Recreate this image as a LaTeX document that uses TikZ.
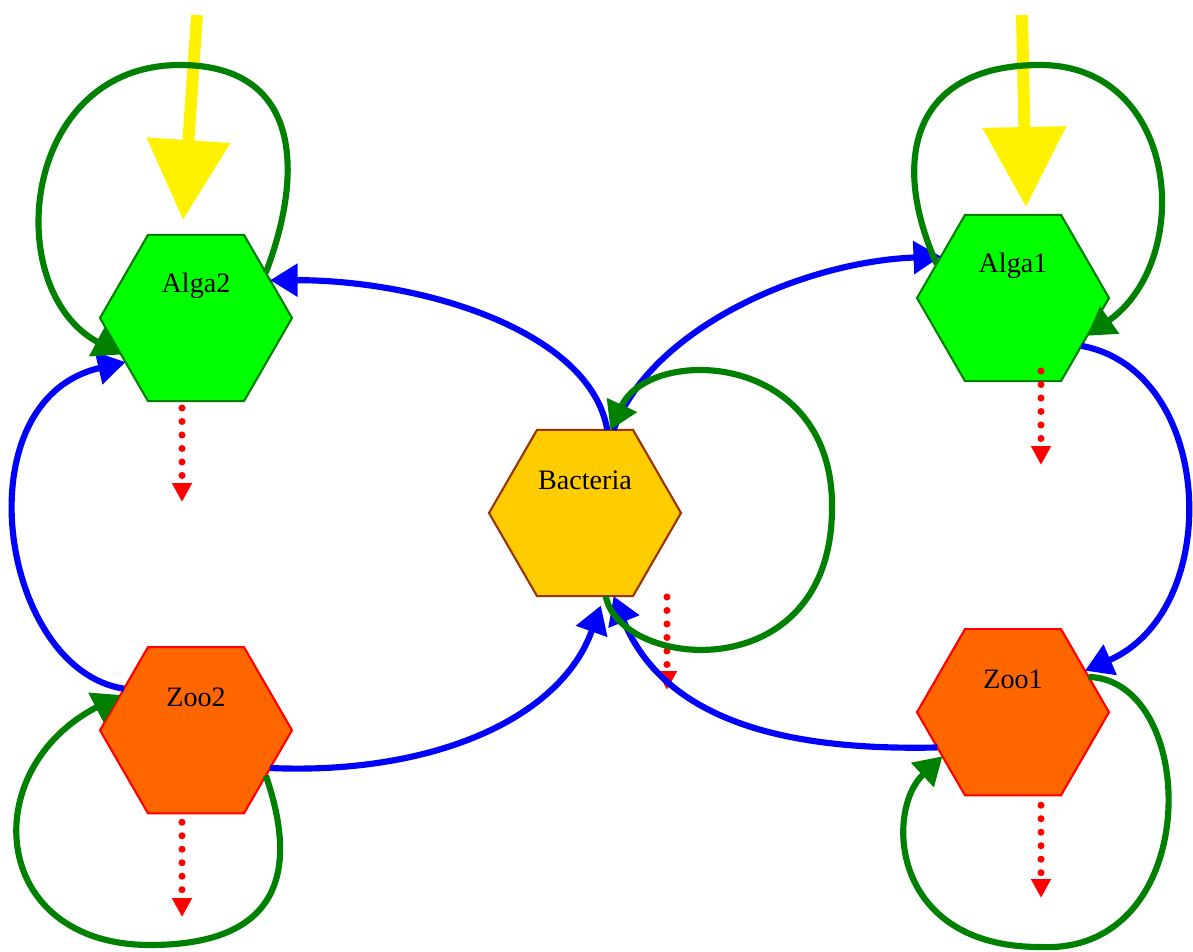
\documentclass[tikz,border=0pt]{standalone}
\usepackage{fontspec}
\setmainfont{Liberation Serif}
\usepackage{xcolor}
\usepackage{tikz}
\usetikzlibrary{shapes,arrows.meta,positioning}
\definecolor{algagreen}{RGB}{0,255,0}
\definecolor{darkgreen}{RGB}{0,128,0}
\definecolor{bactyellow}{RGB}{255,204,0}
\definecolor{bactbrown}{RGB}{153,51,0}
\definecolor{zooorange}{RGB}{255,102,0}

\begin{document}
\begin{tikzpicture}[x=0.02cm, y=-0.02cm,
		hexa/.style={regular polygon, regular polygon sides=6, minimum size=3.84cm, inner sep=0pt, outer sep=0pt, line width=1.2pt},
		hexlabel/.style={font=\fontsize{16}{19}\selectfont, yshift=0.65cm},
		flow/.style={blue, line width=3.5pt, -{Triangle[length=0.55cm,width=0.64cm]}},
		self/.style={darkgreen, line width=3.5pt, -{Triangle[length=0.55cm,width=0.64cm]}},
		loss/.style={red, line width=4pt, line cap=round, dash pattern=on 0pt off 0.27cm, -{Triangle[length=0.38cm,width=0.38cm]}},
		sun/.style={yellow, line width=6.8pt, -{Triangle[length=1.6cm,width=1.62cm]}}]
				\useasboundingbox (0,0) rectangle (1193,952);
				\node[hexa, fill=algagreen, draw=darkgreen] (alga2) at (196,318) {};
				\node[hexa, fill=zooorange, draw=red, below=4.92cm of alga2] (zoo2) {};
				\node[hexa, fill=bactyellow, draw=bactbrown] (bacteria) at (585,513) {};
				\node[hexa, fill=algagreen, draw=darkgreen] (alga1) at (1013,298) {};
				\node[hexa, fill=zooorange, draw=red, below=4.96cm of alga1] (zoo1) {};
				\node[hexlabel] (alga2-name) at (alga2) {Alga2};
				\node[hexlabel] (zoo2-name) at (zoo2) {Zoo2};
				\node[hexlabel] (bacteria-name) at (bacteria) {Bacteria};
				\node[hexlabel] (alga1-name) at (alga1) {Alga1};
				\node[hexlabel] (zoo1-name) at (zoo1) {Zoo1};
				\coordinate (sun2) at (197,15);
				\coordinate (sun2tip) at (183,220);
				\coordinate (sun1) at (1022,15);
				\coordinate (sun1tip) at (1026,207);
				\coordinate (alga2out) at (182,502);
				\coordinate (zoo2out) at (182,917);
				\coordinate (bacteriaout) at (667,690);
				\coordinate (alga1out) at (1041,465);
				\coordinate (zoo1out) at (1041,898);
				\draw[sun] (sun2) -- (sun2tip);
				\draw[sun] (sun1) -- (sun1tip);
				\draw[loss] ([shift={(-14,90)}]alga2.center) -- (alga2out);
				\draw[loss] ([shift={(-14,92)}]zoo2.center) -- (zoo2out);
				\draw[loss] ([shift={(82,84)}]bacteria.center) -- (bacteriaout);
				\draw[loss] ([shift={(28,73)}]alga1.center) -- (alga1out);
				\draw[loss] ([shift={(28,93)}]zoo1.center) -- (zoo1out);
				\draw[flow] (bacteria.75) .. controls (590,330) and (420,280) .. (alga2.27);
				\draw[flow] (bacteria.71) .. controls (650,330) and (800,262) .. (alga1.150);
				\draw[flow] (alga1.325) .. controls (1215,370) and (1225,610) .. (zoo1.30);
				\draw[flow] (zoo1.205) .. controls (820,750) and (670,735) .. (bacteria.289);
				\draw[flow, shorten >=0.2cm] (zoo2.333) .. controls (430,775) and (560,720) .. (bacteria.283);
				\draw[flow] (zoo2.150) .. controls (0,670) and (-40,400) .. (alga2.212);
				\draw[self] (alga2.33) .. controls (305,170) and (300,65) .. (180,65) .. controls (20,65) and (0,290) .. (alga2.206);
				\draw[self] (alga1.156) .. controls (890,160) and (912,65) .. (1040,65) .. controls (1180,65) and (1195,260) .. (alga1.333);
				\draw[self] (bacteria.284) .. controls (620,670) and (830,690) .. (832,510) .. controls (835,350) and (650,345) .. (bacteria.73);
				\draw[self] (zoo2.327) .. controls (295,860) and (290,945) .. (150,945) .. controls (-10,945) and (-25,770) .. (zoo2.155);
				\draw[self] (zoo1.25) .. controls (1200,680) and (1205,955) .. (1040,947) .. controls (890,947) and (885,810) .. (zoo1.212);
			\end{tikzpicture}
\end{document}
